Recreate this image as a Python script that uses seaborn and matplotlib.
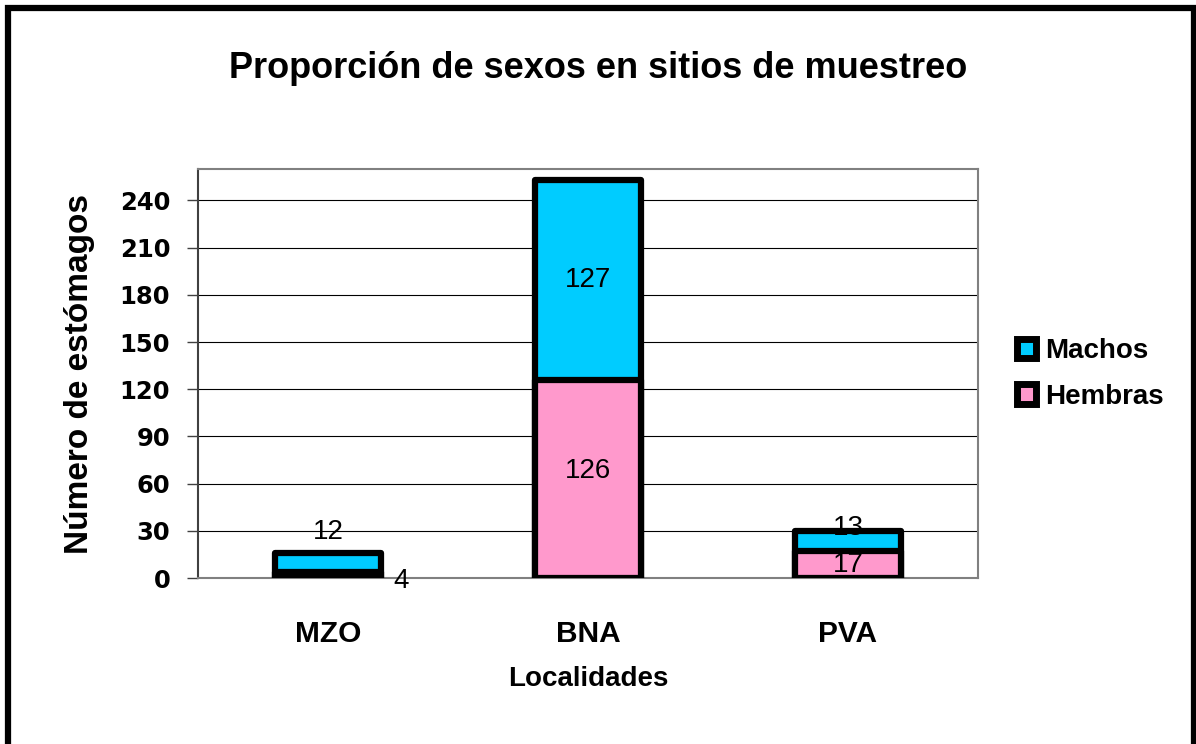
import pandas as pd
import matplotlib
matplotlib.use("Agg")
import matplotlib.pyplot as plt
import seaborn as sns
from matplotlib.patches import Patch, Rectangle

# data
localidades = ["MZO", "BNA", "PVA"]
machos = [12, 127, 13]
hembras = [4, 126, 17]
y_ticks = [0, 30, 60, 90, 120, 150, 180, 210, 240]

color_machos = "#00CCFF"
color_hembras = "#FF99CC"

df = pd.DataFrame({"Localidad": localidades, "Machos": machos, "Hembras": hembras})
df["Total"] = df["Machos"] + df["Hembras"]

sns.set_style("white")
plt.rcParams["font.family"] = ["Liberation Sans", "DejaVu Sans"]
plt.rcParams["text.color"] = "black"
plt.rcParams["axes.labelcolor"] = "black"
plt.rcParams["xtick.color"] = "black"
plt.rcParams["ytick.color"] = "black"

fig = plt.figure(figsize=(11.96, 7.44), dpi=100)
ax = fig.add_axes([198 / 1196, 1 - 578 / 744, 780 / 1196, 409 / 744])

# stacked bars: total (machos on top) then hembras over it
sns.barplot(data=df, x="Localidad", y="Total", order=localidades, color=color_machos,
            saturation=1, edgecolor="black", linewidth=4.5, width=0.41, errorbar=None, ax=ax)
sns.barplot(data=df, x="Localidad", y="Hembras", order=localidades, color=color_hembras,
            saturation=1, edgecolor="black", linewidth=4.5, width=0.41, errorbar=None, ax=ax)
for p in ax.patches:
    p.set_joinstyle("round")
    p.set_zorder(3)

# data labels (placed roughly as in the original)
for i, (m, h) in enumerate(zip(machos, hembras)):
    tot = m + h
    if i == 0:
        ax.text(i, tot + 13, str(m), ha="center", va="center", fontsize=20)
        ax.text(i + 0.28, -2, str(h), ha="center", va="center", fontsize=20)
    elif i == 1:
        ax.text(i, h + m / 2, str(m), ha="center", va="center", fontsize=20, zorder=5)
        ax.text(i, h / 2 + 5, str(h), ha="center", va="center", fontsize=20, zorder=5)
    else:
        ax.text(i, tot + 2, str(m), ha="center", va="center", fontsize=20, zorder=5)
        ax.text(i, h / 2, str(h), ha="center", va="center", fontsize=20, zorder=5)

ax.set_xlim(-0.5, 2.5)
ax.set_ylim(0, 260)
ax.set_yticks(y_ticks)
ax.set_yticklabels([str(t) for t in y_ticks], fontsize=17.5, fontweight="bold",
                   family="DejaVu Sans")
ax.set_xticks(range(len(localidades)))
ax.set_xticklabels(localidades, fontsize=21.5, fontweight="bold")
ax.set_xticks([-0.5, 0.5, 1.5, 2.5], minor=True)
ax.tick_params(axis="x", which="major", length=0, pad=30)
ax.tick_params(axis="x", which="minor", length=8, width=1, color="#404040", direction="out")
ax.tick_params(axis="y", length=8, width=1, color="#404040", direction="out", pad=12, left=True)

ax.yaxis.grid(True, color="black", linewidth=0.8)
ax.xaxis.grid(False)
ax.set_axisbelow(True)

for side in ["top", "right", "bottom"]:
    ax.spines[side].set_color("#808080")
    ax.spines[side].set_linewidth(1.5)
ax.spines["left"].set_color("#404040")
ax.spines["left"].set_linewidth(1.5)

ax.set_ylabel("Número de estómagos", fontsize=24, fontweight="bold")
ax.yaxis.set_label_coords(-0.132, 0.5)
ax.set_xlabel("Localidades", fontsize=20, fontweight="bold")
ax.xaxis.set_label_coords(0.5, -0.215)
ax.xaxis.label.set_va("top")

fig.text(0.5, 1 - 68 / 744, "Proporción de sexos en sitios de muestreo",
         ha="center", va="center", fontsize=26, fontweight="bold")

handles = [Patch(facecolor=color_machos, edgecolor="black", linewidth=5),
           Patch(facecolor=color_hembras, edgecolor="black", linewidth=5)]
fig.legend(handles, ["Machos", "Hembras"], loc="center left",
           bbox_to_anchor=(992 / 1196, 1 - 374 / 744), frameon=False,
           prop={"size": 20, "weight": "bold"}, handlelength=0.7, handleheight=0.7,
           handletextpad=0.3, labelspacing=0.7)

# outer chart frame
fig.patches.append(Rectangle((8 / 1196, -0.05), 1186 / 1196, 1.05 - 8 / 744,
                             transform=fig.transFigure, fill=False,
                             edgecolor="black", linewidth=4.5, clip_on=False))

fig.savefig("out.png", dpi=100)
